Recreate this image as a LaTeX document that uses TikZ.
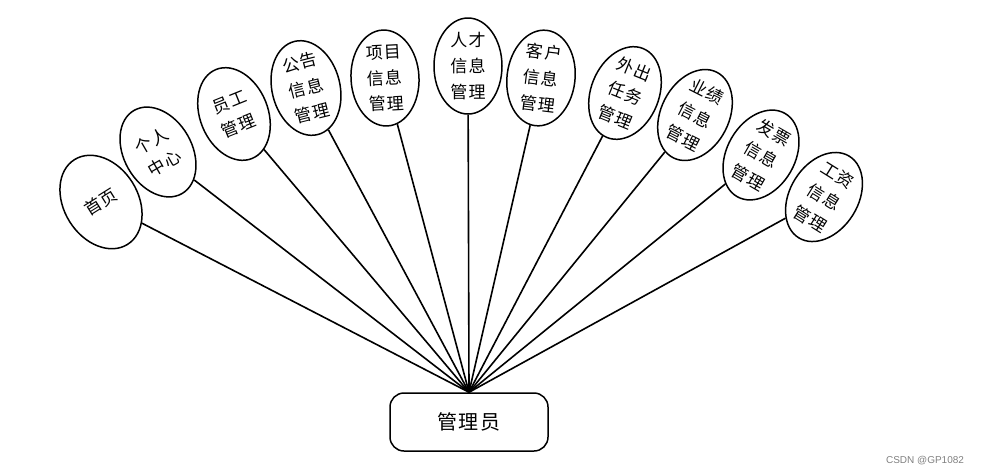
\documentclass[tikz,border=0pt]{standalone}
\usepackage{fontspec}
\newfontfamily\cjk[LetterSpace=8]{Noto Sans CJK SC}
\newfontfamily\wzfont{Liberation Sans}
\usetikzlibrary{shapes.geometric, positioning}

\tikzset{
  modul/.style={ellipse, draw, line width=1.5pt, minimum width=68pt, minimum height=96pt,
    inner sep=0pt, align=center, font=\cjk\fontsize{17}{26}\selectfont},
  rolle/.style={rectangle, rounded corners=14pt, draw, line width=1.5pt,
    minimum width=158pt, minimum height=58pt, font=\cjk\fontsize{20}{24}\selectfont},
  verbindung/.style={line width=1.6pt}
}

\begin{document}
\begin{tikzpicture}[x=1pt, y=-1pt]
\useasboundingbox (0,0) rectangle (982,475);
% Rolle
\node[rolle] (admin) at (469,422) {管理员};
% Module
\node[modul, rotate=32, minimum width=74pt, minimum height=100pt] (shouye) at (101,202) {首页};
\node[modul, rotate=30] (geren) at (158,152) {个人\\中心};
\node[modul, rotate=22] (yuangong) at (234,114) {员工\\管理};
\node[modul, rotate=14] (gonggao) at (306,88) {公告\\信息\\管理};
\node[modul, rotate=3] (xiangmu) at (385,78) {项目\\信息\\管理};
\node[modul] (rencai) at (468,66) {人才\\信息\\管理};
\node[modul, rotate=-7] (kehu) at (541,78) {客户\\信息\\管理};
\node[modul, rotate=-22] (waichu) at (625,93) {外出\\任务\\管理};
\node[modul, rotate=-27] (yeji) at (695,115) {业绩\\信息\\管理};
\node[modul, rotate=-30] (fapiao) at (761,155) {发票\\信息\\管理};
\node[modul, rotate=-32] (gongzi) at (824,197) {工资\\信息\\管理};
% Verbindungen
\coordinate (mitte) at (admin.north);
\draw[verbindung] (mitte) -- (shouye);
\draw[verbindung] (mitte) -- (geren);
\draw[verbindung] (mitte) -- (yuangong);
\draw[verbindung] (mitte) -- (gonggao);
\draw[verbindung] (mitte) -- (xiangmu);
\draw[verbindung] (mitte) -- (rencai);
\draw[verbindung] (mitte) -- (kehu);
\draw[verbindung] (mitte) -- (waichu);
\draw[verbindung] (mitte) -- (yeji);
\draw[verbindung] (mitte) -- (fapiao);
\draw[verbindung] (mitte) -- (gongzi);
% Wasserzeichen
\node[text=gray, font=\wzfont\fontsize{10}{12}\selectfont] (wz) at (925,461) {CSDN @GP1082};
\end{tikzpicture}
\end{document}
